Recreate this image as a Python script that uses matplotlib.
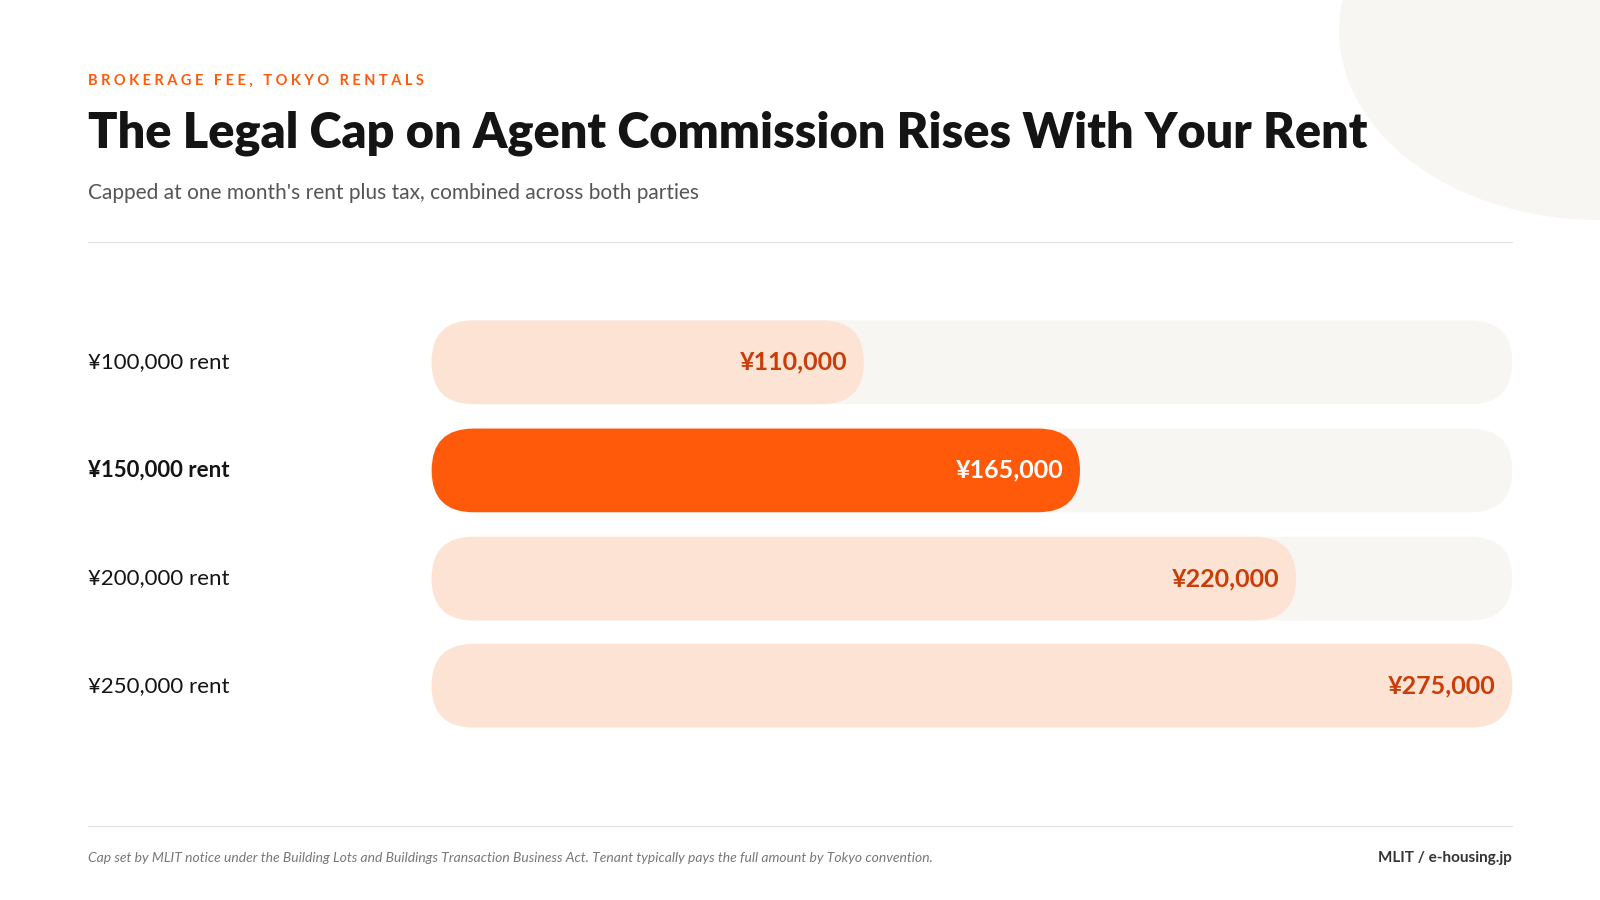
import matplotlib.pyplot as plt
from matplotlib.patches import FancyBboxPatch, Ellipse

rents = ["¥100,000 rent", "¥150,000 rent", "¥200,000 rent", "¥250,000 rent"]
caps = [110000, 165000, 220000, 275000]
value_labels = ["¥110,000", "¥165,000", "¥220,000", "¥275,000"]
highlight = 1

W, H = 1568, 882
plt.rcParams['font.family'] = ['Lato', 'DejaVu Sans']

fig = plt.figure(figsize=(16, 9), dpi=100)
ax = fig.add_axes([0, 0, 1, 1])
ax.set_xlim(0, W)
ax.set_ylim(H, 0)
ax.axis('off')

# decorative blob top-right
ax.add_patch(Ellipse((1568, 30), 510, 370, color='#F8F6F2', zorder=0))

ax.text(86, 79, "B R O K E R A G E   F E E ,   T O K Y O   R E N T A L S", color='#FF5A0A',
        fontsize=10.5, fontweight='bold', va='center')
ax.text(86, 131, "The Legal Cap on Agent Commission Rises With Your Rent", color='#141414',
        fontsize=35, fontweight='heavy', va='center')
ax.text(86, 189, "Capped at one month's rent plus tax, combined across both parties",
        color='#555555', fontsize=15, va='center')
ax.plot([86, 1482], [237, 237], color='#E8E6E2', lw=1)
ax.plot([86, 1482], [809, 809], color='#E8E6E2', lw=1)

x0, x1 = 423, 1482
scale = (x1 - x0) / max(caps)
ys = [355, 461, 567, 672]
bh = 82
for i, (lab, v, vl, y) in enumerate(zip(rents, caps, value_labels, ys)):
    hl = i == highlight
    ax.add_patch(FancyBboxPatch((x0, y - bh / 2), x1 - x0, bh,
                                boxstyle=f"round,pad=0,rounding_size={bh/2}",
                                fc='#F8F6F2', ec='none'))
    ax.add_patch(FancyBboxPatch((x0, y - bh / 2), v * scale, bh,
                                boxstyle=f"round,pad=0,rounding_size={bh/2}",
                                fc='#FF5A0A' if hl else '#FDE3D4', ec='none'))
    ax.text(x0 + v * scale - 16, y, vl, ha='right', va='center', fontsize=18,
            fontweight='bold', color='white' if hl else '#C93D08')
    ax.text(86, y, lab, va='center', fontsize=16, color='#141414',
            fontweight='bold' if hl else 'normal')

ax.text(86, 841, "Cap set by MLIT notice under the Building Lots and Buildings Transaction Business Act. "
        "Tenant typically pays the full amount by Tokyo convention.",
        fontsize=10, style='italic', color='#777777', va='center')
ax.text(1482, 841, "MLIT / e-housing.jp", fontsize=11, fontweight='bold', color='#333333',
        ha='right', va='center')

fig.savefig("out.png", dpi=100, facecolor='white')
